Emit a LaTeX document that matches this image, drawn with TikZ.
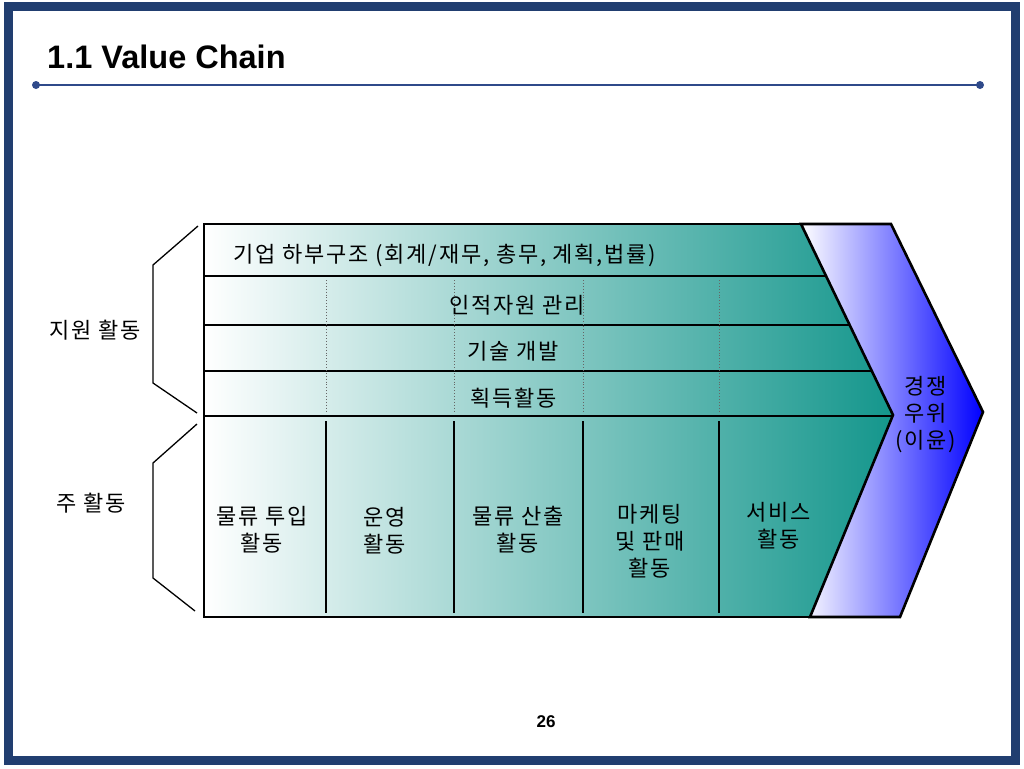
\documentclass[tikz,border=0pt]{standalone}
\usepackage{fontspec}
\usepackage{xcolor}
\setmainfont{Liberation Sans}
\newfontfamily\kr[LetterSpace=8]{Noto Sans CJK KR}
\usetikzlibrary{shapes}
\definecolor{frameblue}{RGB}{33,62,112}
\definecolor{ruleblue}{RGB}{47,74,138}
\definecolor{chainteal}{RGB}{20,150,140}
\tikzstyle{chaintext}=[
    text=black,
    align=center,
    inner sep=0pt,
    font=\kr\fontsize{22}{27}\selectfont]
\tikzstyle{rowline}=[draw=black, line width=1.6]
\tikzstyle{colline}=[draw=black!60, line width=0.9, dotted]
\tikzstyle{braceline}=[draw=black, line width=1.3]
\tikzstyle{chainedge}=[draw=black, line width=2.6, line join=miter]

\begin{document}
\begin{tikzpicture}[x=1pt,y=-1pt]
    \useasboundingbox (0,0) rectangle (1024,768);
    \draw[frameblue, line width=9.5pt] (8.5,6.5) rectangle (1015.5,760.5);

    \node[anchor=base west, inner sep=0pt, font=\bfseries\fontsize{32.5}{32}\selectfont] (title) at (47,68) {1.1 Value Chain};
    \coordinate (rule-l) at (36,85);
    \coordinate (rule-r) at (980,85);
    \draw[ruleblue, line width=2.5pt] (rule-l) -- (rule-r);
    \fill[ruleblue] (rule-l) circle (4pt) (rule-r) circle (4pt);

    \coordinate (chain-tl) at (204,224);
    \coordinate (chain-tr) at (801,224);
    \coordinate (chain-notch) at (893,415);
    \coordinate (chain-br) at (810,617);
    \coordinate (chain-bl) at (204,617);
    \shade[left color=white, right color=chainteal] (chain-tl) -- (chain-tr) -- (chain-notch) -- (chain-br) -- (chain-bl) -- cycle;

    \foreach \y/\x in {276/826, 325/850, 371/872, 416/893}
      \draw[rowline] (204,\y) -- (\x,\y);
    \foreach \x in {326,454,583,719}
      \draw[colline] (\x,280) -- (\x,412);
    \foreach \x in {326,454,583,719}
      \draw[rowline] (\x,421) -- (\x,613);

    \shadedraw[left color=white, right color=blue, chainedge] (chain-tr) -- (891,224) -- (983,412) -- (900,617) -- (chain-br) -- (chain-notch) -- cycle;
    \draw[chainedge] (chain-tr) -- (chain-tl) -- (chain-bl) -- (chain-br);

    \draw[braceline] (198,226) -- (153,265) -- (153,383) -- (197,413);
    \draw[braceline] (197,424) -- (153,463) -- (153,578) -- (195,611);

    \node[chaintext] (support) at (95,330) {지원 활동};
    \node[chaintext] (primary) at (91,503) {주 활동};

    \node[chaintext] (infra) at (445,255) {기업 하부구조 (회계/재무, 총무, 계획,법률)};
    \node[chaintext] (hrm) at (517,305) {인적자원 관리};
    \node[chaintext] (tech) at (513,351) {기술 개발};
    \node[chaintext] (procure) at (514,398) {획득활동};

    \node[chaintext] (inbound) at (262,530) {물류 투입\\활동};
    \node[chaintext] (ops) at (385,531) {운영\\활동};
    \node[chaintext] (outbound) at (518,530) {물류 산출\\활동};
    \node[chaintext] (sales) at (650,541) {마케팅\\및 판매\\활동};
    \node[chaintext] (service) at (779,526) {서비스\\활동};
    \node[chaintext] (margin) at (926,415) {경쟁\\우위\\(이윤)};

    \node[font=\bfseries\fontsize{17}{17}\selectfont] (page) at (546,722) {26};
\end{tikzpicture}
\end{document}
